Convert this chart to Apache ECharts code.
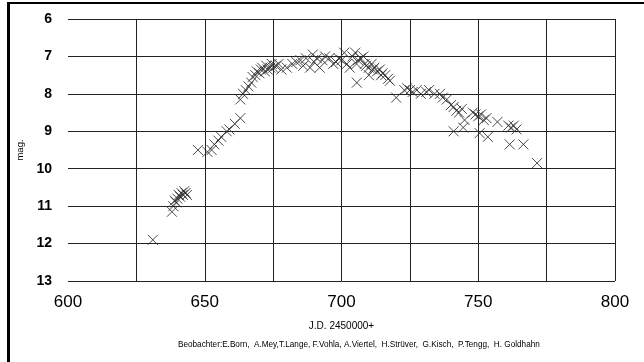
<!DOCTYPE html>
<html>
<head>
<meta charset="utf-8">
<script src="https://cdn.jsdelivr.net/npm/echarts@6/dist/echarts.min.js"></script>
<style>
html,body{margin:0;padding:0;background:#fff;}
#frame{position:absolute;left:7px;top:2px;right:0;bottom:0;border-left:3px solid #000;border-top:2px solid #000;pointer-events:none;z-index:2;}
#chart{position:absolute;left:0;top:0;width:644px;height:362px;}
</style>
</head>
<body>
<div id="chart"></div>
<div id="frame"></div>
<script>
// Julian date offsets (J.D. 2450000+)
const jd = [631,638,638.5,639,639.5,640,640.5,641,641.5,642,642.5,643,643.5,
 647.5,651,652.5,653.5,655,656,658,659,661,663,
 663,664,665,666,667,667.5,668.5,669,670,670.5,671,672,672.5,673,674,674.5,675,676,677,678,680,682,683.5,685,686,687,688.5,689.5,690,691,692,693,694,695.5,697,698,699,700,701,702,703,704,705,705.5,706,707,708,708.5,709,710,711,711.5,712,713,714,714.5,715,716,717,717.7,705.6,710,
 720,723,724,725,726,727.5,729,731,732,734,736,737,738.5,740,741,742,743,744,741,744.5,745,
 748,749,750,751,752,753,750.5,753.5,757,761,762,763,764,761.5,766.5,771.5];
// visual magnitudes
const mag = [11.9,11.15,11.0,10.85,10.9,10.8,10.7,10.75,10.65,10.7,10.6,10.65,10.7,
 9.5,9.55,9.5,9.35,9.25,9.15,9.0,8.95,8.8,8.65,
 8.15,8.0,7.9,7.8,7.7,7.55,7.5,7.4,7.45,7.35,7.3,7.4,7.25,7.35,7.3,7.2,7.3,7.25,7.2,7.35,7.3,7.2,7.15,7.1,7.25,7.05,7.3,6.95,7.15,7.05,7.3,7.1,7.0,7.05,7.2,7.15,7.05,7.1,6.9,7.2,7.3,7.0,6.9,7.2,7.1,7.05,7.0,7.2,7.25,7.3,7.2,7.35,7.3,7.4,7.35,7.5,7.45,7.5,7.6,7.65,7.7,7.5,
 8.1,7.9,7.85,7.9,7.95,7.9,8.0,7.95,7.9,8.0,8.0,8.1,8.15,8.3,8.35,8.45,8.5,8.4,9.0,8.9,8.7,
 8.5,8.55,8.6,8.55,8.7,8.65,9.05,9.15,8.75,8.85,8.9,8.85,8.95,9.35,9.35,9.85];
const xTicks = [600,650,700,750,800];
const yTicks = [6,7,8,9,10,11,12,13];
const xTitle = 'J.D. 2450000+';
const yTitle = 'mag.';
const observers = 'Beobachter:E.Born,  A.Mey,T.Lange, F.Vohla, A.Viertel,  H.Strüver,  G.Kisch,  P.Tengg,  H. Goldhahn';

const pts = jd.map((d,i)=>[d,mag[i]]);
const chart = echarts.init(document.getElementById('chart'));
chart.setOption({
  animation:false,
  backgroundColor:'#fff',
  title:{text:observers,left:173,top:336,textStyle:{fontFamily:'Liberation Sans, Arial',fontSize:8.2,fontWeight:'normal',color:'#000'}},
  grid:{left:68,right:29,top:19,bottom:81},
  xAxis:{type:'value',min:xTicks[0],max:xTicks[xTicks.length-1],interval:25,
    name:xTitle,nameLocation:'middle',nameGap:40,
    nameTextStyle:{fontFamily:'Liberation Sans, Arial',fontSize:10,color:'#000'},
    axisLine:{show:false},axisTick:{show:false},
    axisLabel:{margin:13,fontFamily:'Liberation Sans, Arial',fontSize:17,color:'#000',
      formatter:v=>xTicks.includes(v)?String(v):''},
    splitLine:{show:true,showMinLine:false,lineStyle:{color:'#222',width:1}}},
  yAxis:{type:'value',inverse:true,min:yTicks[0],max:yTicks[yTicks.length-1],interval:1,
    name:yTitle,nameLocation:'middle',nameGap:40,nameRotate:90,
    nameTextStyle:{fontFamily:'Liberation Sans, Arial',fontSize:9.5,color:'#000'},
    axisLine:{show:false},axisTick:{show:false},
    axisLabel:{margin:16,fontFamily:'Liberation Sans, Arial',fontSize:14,fontWeight:'bold',color:'#000'},
    splitLine:{show:true,lineStyle:{color:'#222',width:1}}},
  series:[{type:'scatter',data:pts,symbol:'path://M0,0L10,10M10,0L0,10',symbolSize:10,
    itemStyle:{color:'none',borderColor:'#2a2a2a',borderWidth:1,opacity:0.85}}]
});
</script>
</body>
</html>
